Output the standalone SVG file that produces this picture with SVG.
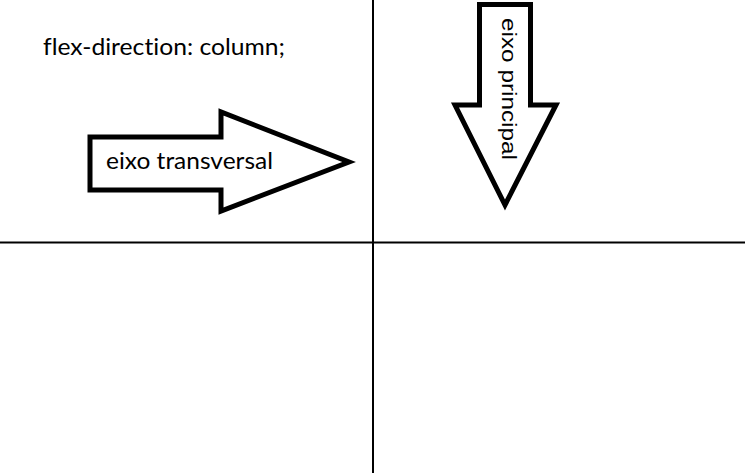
<svg xmlns="http://www.w3.org/2000/svg" width="745" height="473" viewBox="0 0 745 473">
<style>
.arrow{fill:#fff;stroke:#000;stroke-width:5;stroke-linejoin:miter}
.axis{stroke:#000;stroke-width:2}
.lbl{font-family:Lato,"Open Sans","Liberation Sans",sans-serif;fill:#000;font-variant-ligatures:none;font-feature-settings:"liga" 0}
.lbl2{font-family:"Liberation Sans",Arial,sans-serif;fill:#000}
</style>
<rect width="745" height="473" fill="#fff"/>
<g id="connectors">
<line class="axis" x1="373" y1="0" x2="373" y2="473"/>
<line class="axis" x1="0" y1="242.5" x2="745" y2="242.5"/>
</g>
<g id="title">
<text class="lbl" x="43" y="55" font-size="23" textLength="242" lengthAdjust="spacingAndGlyphs">flex-direction: column;</text>
</g>
<g id="eixo-transversal">
<polygon class="arrow" points="90,137 221,137 221,112 349,162 221,211 221,190 90,190"/>
<text class="lbl" x="106" y="169" font-size="23" textLength="167" lengthAdjust="spacingAndGlyphs">eixo transversal</text>
</g>
<g id="eixo-principal">
<polygon class="arrow" points="479.5,4.5 530.5,4.5 530.5,105 556,105 505,205 455,105 479.5,105"/>
<text class="lbl2" transform="translate(502,18) rotate(90)" x="0" y="0" font-size="21" textLength="142" lengthAdjust="spacingAndGlyphs">eixo principal</text>
</g>
</svg>
